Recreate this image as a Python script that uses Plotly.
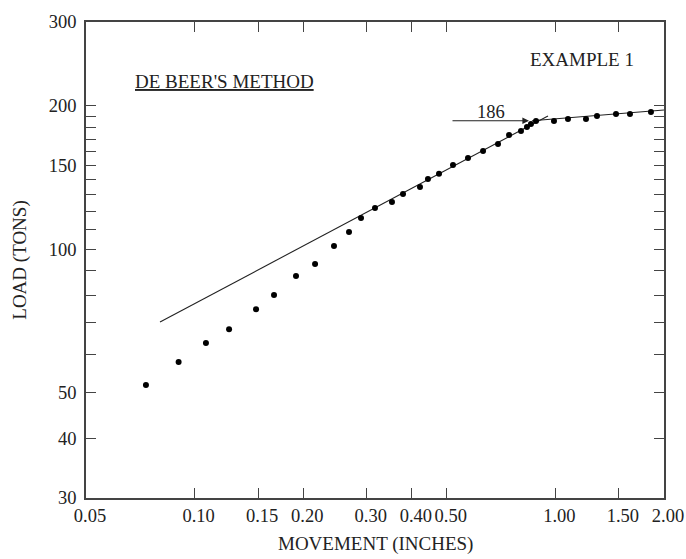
import numpy as np
import plotly.graph_objects as go

# Load test readings: pile head movement (in) vs applied load (tons)
movement_in = [0.0733, 0.0903, 0.1075, 0.1246, 0.1480, 0.1660, 0.1910, 0.2157,
               0.2434, 0.2679, 0.2892, 0.3162, 0.3524, 0.3781, 0.4214, 0.4434,
               0.4758, 0.5202, 0.5725, 0.6302, 0.6934, 0.7439, 0.8028, 0.8340,
               0.8556, 0.8836, 0.9910, 1.0836, 1.2156, 1.3040, 1.4723, 1.6096,
               1.8403]
load_tons = [51.8, 57.9, 63.5, 67.9, 74.8, 80.1, 87.8, 93.0,
             101.5, 108.6, 116.3, 122.0, 125.6, 130.5, 135.1, 140.4,
             143.9, 150.2, 155.4, 160.7, 166.3, 173.7, 177.1, 180.5,
             183.2, 185.9, 185.9, 187.7, 187.7, 190.4, 192.3, 192.3,
             194.1]

# De Beer construction: two straight lines on the log-log plot
line1_x = [0.0802, 0.9538]
line1_y = [70.3, 190.4]
line2_x = [0.861, 2.00]
line2_y = [186.0, 196.0]

# Failure load read at the intersection
failure_load = 186
arrow_tail_x = 0.5136
arrow_tip_x = 0.8448
label_x = 0.663
label_y = 194.1

x_tickvals = [0.05, 0.10, 0.15, 0.20, 0.30, 0.40, 0.50, 1.00, 1.50, 2.00]
x_ticktext = ["0.05", "0.10", "0.15", "0.20", "0.30", "0.40", "0.50", "1.00", "1.50", "2.00"]
y_tickvals = [30, 40, 50, 60, 70, 80, 90, 100, 110, 120, 130, 140, 150,
              160, 170, 180, 190, 200, 300]
y_ticktext = ["30", "40", "50", "", "", "", "", "100", "", "", "", "", "150",
              "", "", "", "", "200", "300"]

FONT = "Liberation Serif"
INK = "#222222"

fig = go.Figure()

fig.add_trace(go.Scatter(x=line1_x, y=line1_y, mode="lines",
                         line=dict(color=INK, width=1.1), hoverinfo="skip"))
fig.add_trace(go.Scatter(x=line2_x, y=line2_y, mode="lines",
                         line=dict(color=INK, width=1.1), hoverinfo="skip"))
fig.add_trace(go.Scatter(x=movement_in, y=load_tons, mode="markers",
                         marker=dict(color="black", size=6)))

# Horizontal arrow marking the failure load (annotation coords are log10 on log axes)
fig.add_annotation(x=np.log10(arrow_tip_x), y=np.log10(failure_load),
                   ax=np.log10(arrow_tail_x), ay=np.log10(failure_load),
                   xref="x", yref="y", axref="x", ayref="y",
                   text="", showarrow=True, arrowhead=2, arrowsize=1.2,
                   arrowwidth=1.1, arrowcolor=INK)
fig.add_annotation(x=np.log10(label_x), y=np.log10(label_y), xref="x", yref="y",
                   text=str(failure_load), showarrow=False,
                   font=dict(family=FONT, size=18.5, color=INK))

fig.add_annotation(x=0.2388, y=0.874, xref="paper", yref="paper",
                   xanchor="center", yanchor="middle",
                   text="<u>DE BEER'S METHOD</u>", showarrow=False,
                   font=dict(family=FONT, size=19, color=INK))
fig.add_annotation(x=0.858, y=0.922, xref="paper", yref="paper",
                   xanchor="center", yanchor="middle",
                   text="EXAMPLE 1", showarrow=False,
                   font=dict(family=FONT, size=19, color=INK))

# x-axis title placed as a paper annotation low in the bottom margin
fig.add_annotation(x=0.5, y=-0.1240, xref="paper", yref="paper",
                   xanchor="center", yanchor="bottom",
                   text="MOVEMENT (INCHES)", showarrow=False,
                   font=dict(family=FONT, size=19, color=INK))

axis_common = dict(
    type="log", showgrid=False, zeroline=False, showline=True, automargin=False,
    linecolor="#444444", linewidth=1.5, mirror="ticks",
    ticks="inside", ticklen=10, tickwidth=1.2, tickcolor="#444444",
    tickfont=dict(family=FONT, size=18.5, color=INK),
)

fig.update_xaxes(**axis_common, range=[np.log10(0.05), np.log10(2.0)],
                 tickmode="array", tickvals=x_tickvals, ticktext=x_ticktext,
                 ticklabelshift=4)
fig.update_yaxes(**axis_common, range=[np.log10(30), np.log10(300)],
                 tickmode="array", tickvals=y_tickvals, ticktext=y_ticktext,
                 ticklabelstandoff=4,
                 title=dict(text="LOAD (TONS)", standoff=17,
                            font=dict(family=FONT, size=19, color=INK)))

fig.update_layout(width=686, height=559, showlegend=False,
                  margin=dict(l=86, r=22, t=22, b=61),
                  paper_bgcolor="white", plot_bgcolor="white")

fig.write_html("out.html")
